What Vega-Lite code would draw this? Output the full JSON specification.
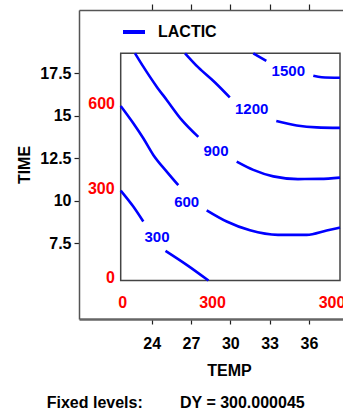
{
  "$schema": "https://vega.github.io/schema/vega-lite/v6.json",
  "width": 264,
  "height": 309,
  "autosize": {"type": "none"},
  "padding": {"left": 79, "top": 10, "right": 0, "bottom": 93},
  "background": "white",
  "config": {
    "view": {"stroke": null},
    "font": "Liberation Sans",
    "axis": {
      "labelFont": "Liberation Sans", "labelFontWeight": "bold", "labelFontSize": 16, "labelColor": "#000",
      "titleFont": "Liberation Sans", "titleFontWeight": "bold", "titleFontSize": 16, "titleColor": "#000",
      "grid": false, "tickColor": "#222", "tickWidth": 1.2, "domainColor": "#555", "domainWidth": 1.5
    }
  },
  "datasets": {
    "contours": [
      {"series": "LACTIC", "level": 300, "piece": "300a", "i": 0, "TEMP": 21.633, "TIME": 10.591},
      {"series": "LACTIC", "level": 300, "piece": "300a", "i": 1, "TEMP": 22.595, "TIME": 9.649},
      {"series": "LACTIC", "level": 300, "piece": "300a", "i": 2, "TEMP": 23.358, "TIME": 8.767},
      {"series": "LACTIC", "level": 300, "piece": "300b", "i": 0, "TEMP": 25.053, "TIME": 7.044},
      {"series": "LACTIC", "level": 300, "piece": "300b", "i": 1, "TEMP": 26.671, "TIME": 6.22},
      {"series": "LACTIC", "level": 300, "piece": "300b", "i": 2, "TEMP": 28.335, "TIME": 5.296},
      {"series": "LACTIC", "level": 600, "piece": "600a", "i": 0, "TEMP": 21.633, "TIME": 15.573},
      {"series": "LACTIC", "level": 600, "piece": "600a", "i": 1, "TEMP": 22.595, "TIME": 14.555},
      {"series": "LACTIC", "level": 600, "piece": "600a", "i": 2, "TEMP": 23.358, "TIME": 13.673},
      {"series": "LACTIC", "level": 600, "piece": "600a", "i": 3, "TEMP": 24.122, "TIME": 12.69},
      {"series": "LACTIC", "level": 600, "piece": "600a", "i": 4, "TEMP": 25.145, "TIME": 11.708},
      {"series": "LACTIC", "level": 600, "piece": "600a", "i": 5, "TEMP": 26.03, "TIME": 10.908},
      {"series": "LACTIC", "level": 600, "piece": "600b", "i": 0, "TEMP": 28.198, "TIME": 9.426},
      {"series": "LACTIC", "level": 600, "piece": "600b", "i": 1, "TEMP": 29.725, "TIME": 8.767},
      {"series": "LACTIC", "level": 600, "piece": "600b", "i": 2, "TEMP": 31.503, "TIME": 8.249},
      {"series": "LACTIC", "level": 600, "piece": "600b", "i": 3, "TEMP": 33.641, "TIME": 7.985},
      {"series": "LACTIC", "level": 600, "piece": "600b", "i": 4, "TEMP": 35.832, "TIME": 7.985},
      {"series": "LACTIC", "level": 600, "piece": "600b", "i": 5, "TEMP": 37.358, "TIME": 8.238},
      {"series": "LACTIC", "level": 600, "piece": "600b", "i": 6, "TEMP": 38.374, "TIME": 8.414},
      {"series": "LACTIC", "level": 900, "piece": "900a", "i": 0, "TEMP": 22.725, "TIME": 18.673},
      {"series": "LACTIC", "level": 900, "piece": "900a", "i": 1, "TEMP": 23.358, "TIME": 17.885},
      {"series": "LACTIC", "level": 900, "piece": "900a", "i": 2, "TEMP": 24.381, "TIME": 16.708},
      {"series": "LACTIC", "level": 900, "piece": "900a", "i": 3, "TEMP": 25.145, "TIME": 15.926},
      {"series": "LACTIC", "level": 900, "piece": "900a", "i": 4, "TEMP": 26.29, "TIME": 14.749},
      {"series": "LACTIC", "level": 900, "piece": "900a", "i": 5, "TEMP": 27.557, "TIME": 13.749},
      {"series": "LACTIC", "level": 900, "piece": "900b", "i": 0, "TEMP": 30.488, "TIME": 12.296},
      {"series": "LACTIC", "level": 900, "piece": "900b", "i": 1, "TEMP": 31.755, "TIME": 11.808},
      {"series": "LACTIC", "level": 900, "piece": "900b", "i": 2, "TEMP": 33.282, "TIME": 11.426},
      {"series": "LACTIC", "level": 900, "piece": "900b", "i": 3, "TEMP": 35.168, "TIME": 11.267},
      {"series": "LACTIC", "level": 900, "piece": "900b", "i": 4, "TEMP": 36.847, "TIME": 11.279},
      {"series": "LACTIC", "level": 900, "piece": "900b", "i": 5, "TEMP": 38.374, "TIME": 11.355},
      {"series": "LACTIC", "level": 1200, "piece": "1200a", "i": 0, "TEMP": 26.542, "TIME": 18.673},
      {"series": "LACTIC", "level": 1200, "piece": "1200a", "i": 1, "TEMP": 27.557, "TIME": 17.838},
      {"series": "LACTIC", "level": 1200, "piece": "1200a", "i": 2, "TEMP": 28.832, "TIME": 16.955},
      {"series": "LACTIC", "level": 1200, "piece": "1200a", "i": 3, "TEMP": 29.961, "TIME": 16.073},
      {"series": "LACTIC", "level": 1200, "piece": "1200b", "i": 0, "TEMP": 33.511, "TIME": 14.691},
      {"series": "LACTIC", "level": 1200, "piece": "1200b", "i": 1, "TEMP": 35.068, "TIME": 14.426},
      {"series": "LACTIC", "level": 1200, "piece": "1200b", "i": 2, "TEMP": 36.595, "TIME": 14.308},
      {"series": "LACTIC", "level": 1200, "piece": "1200b", "i": 3, "TEMP": 38.374, "TIME": 14.279},
      {"series": "LACTIC", "level": 1500, "piece": "1500a", "i": 0, "TEMP": 31.755, "TIME": 18.673},
      {"series": "LACTIC", "level": 1500, "piece": "1500a", "i": 1, "TEMP": 32.748, "TIME": 18.22},
      {"series": "LACTIC", "level": 1500, "piece": "1500b", "i": 0, "TEMP": 36.335, "TIME": 17.349},
      {"series": "LACTIC", "level": 1500, "piece": "1500b", "i": 1, "TEMP": 36.977, "TIME": 17.261},
      {"series": "LACTIC", "level": 1500, "piece": "1500b", "i": 2, "TEMP": 38.374, "TIME": 17.232}
    ],
    "levelLabels": [
      {"label": "300", "TEMP": 24.404, "TIME": 7.855},
      {"label": "600", "TEMP": 26.671, "TIME": 9.926},
      {"label": "900", "TEMP": 28.908, "TIME": 12.944},
      {"label": "1200", "TEMP": 31.633, "TIME": 15.367},
      {"label": "1500", "TEMP": 34.427, "TIME": 17.632}
    ],
    "box": [{"TEMP": 21.633, "TEMP_end": 38.374, "TIME": 5.3, "TIME_end": 18.673}],
    "innerLeft": [
      {"label": "600", "TEMP": 21.2, "TIME": 15.691},
      {"label": "300", "TEMP": 21.17, "TIME": 10.673},
      {"label": "0", "TEMP": 21.2, "TIME": 5.426}
    ],
    "innerBottom": [
      {"label": "0", "TEMP": 21.794, "TIME": 3.967},
      {"label": "300", "TEMP": 28.641, "TIME": 3.967},
      {"label": "300", "TEMP": 37.763, "TIME": 3.967}
    ],
    "footer": [
      {"label": "Fixed levels:", "TEMP": 15.984, "TIME": -2.209},
      {"label": "DY = 300.000045", "TEMP": 26.16, "TIME": -2.209}
    ]
  },
  "encoding": {
    "y": {"field": "TIME", "type": "quantitative", "scale": {"domain": [3.03, 21.22], "nice": false, "zero": false},
      "axis": {"title": "TIME", "values": [7.5, 10, 12.5, 15, 17.5], "format": ".3~g", "tickSize": 5, "labelPadding": 3, "titlePadding": 7}}
  },
  "layer": [
    {
      "data": {"name": "box"},
      "mark": {"type": "rect", "fill": null, "stroke": "#444", "strokeWidth": 1.5},
      "encoding": {
        "x": {"field": "TEMP", "type": "quantitative", "scale": {"domain": [18.45, 38.603], "nice": false, "zero": false},
          "axis": {"orient": "bottom", "title": "TEMP", "values": [24, 27, 30, 33, 36], "format": "~g", "tickSize": 5,
            "labelBaseline": "alphabetic", "labelPadding": 24, "domainWidth": 2.5, "domainColor": "#666",
            "titleX": 150, "titleY": 56, "titleAlign": "center", "titleBaseline": "alphabetic"}},
        "x2": {"field": "TEMP_end"},
        "y2": {"field": "TIME_end"}
      }
    },
    {
      "data": {"name": "contours"},
      "mark": {"type": "line", "strokeWidth": 2.6, "interpolate": "monotone"},
      "encoding": {
        "x": {"field": "TEMP", "type": "quantitative",
          "axis": {"orient": "top", "title": null, "values": [24, 27, 30, 33, 36], "labels": false, "tickSize": 6}},
        "detail": {"field": "piece"},
        "order": {"field": "i"},
        "color": {"field": "series", "type": "nominal", "scale": {"range": ["#0000ff"]},
          "legend": {"orient": "none", "legendX": 42, "legendY": 9, "title": null, "symbolType": "stroke",
            "symbolSize": 484, "symbolStrokeWidth": 4, "labelFont": "Liberation Sans", "labelFontSize": 16,
            "labelFontWeight": "bold", "labelColor": "#000", "labelOffset": 11, "padding": 0}}
      }
    },
    {
      "data": {"name": "levelLabels"},
      "mark": {"type": "text", "color": "#0000ff", "font": "Liberation Sans", "fontWeight": "bold", "fontSize": 15, "align": "center", "baseline": "middle"},
      "encoding": {
        "x": {"field": "TEMP", "type": "quantitative", "axis": null},
        "text": {"field": "label"}
      }
    },
    {
      "data": {"name": "innerLeft"},
      "mark": {"type": "text", "color": "#ff0000", "font": "Liberation Sans", "fontWeight": "bold", "fontSize": 16, "align": "right", "baseline": "middle"},
      "encoding": {
        "x": {"field": "TEMP", "type": "quantitative", "axis": null},
        "text": {"field": "label"}
      }
    },
    {
      "data": {"name": "innerBottom"},
      "mark": {"type": "text", "color": "#ff0000", "font": "Liberation Sans", "fontWeight": "bold", "fontSize": 16, "align": "center", "baseline": "middle"},
      "encoding": {
        "x": {"field": "TEMP", "type": "quantitative", "axis": null},
        "text": {"field": "label"}
      }
    },
    {
      "data": {"name": "footer"},
      "mark": {"type": "text", "color": "#000", "font": "Liberation Sans", "fontWeight": "bold", "fontSize": 16, "align": "left", "baseline": "alphabetic"},
      "encoding": {
        "x": {"field": "TEMP", "type": "quantitative", "axis": null},
        "text": {"field": "label"}
      }
    }
  ]
}
